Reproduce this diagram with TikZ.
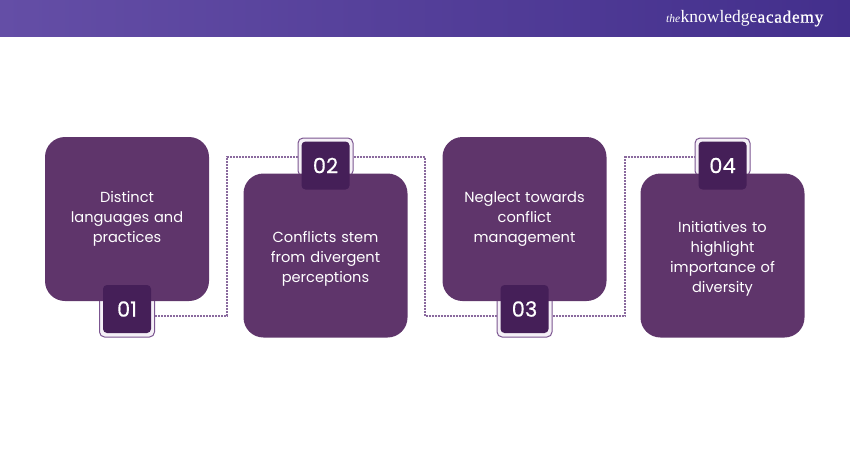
\documentclass[tikz,border=0pt]{standalone}
\usepackage{fontspec}
\setmainfont{Poppins}
\newfontfamily\logofont{Liberation Serif}
\newfontfamily\logoacad{Liberation Serif}[FakeBold=0.5,LetterSpace=3.5]
\newfontfamily\badgefont{Poppins}[FakeBold=0.35]
\definecolor{cardc}{HTML}{5F356B}
\definecolor{badgec}{HTML}{451F58}
\definecolor{framec}{HTML}{7B5590}
\definecolor{linkc}{HTML}{8A6A9E}
\definecolor{headl}{HTML}{644EA6}
\definecolor{headr}{HTML}{432F8C}
\definecolor{halo}{HTML}{F5F0F7}
\newcommand{\lowerstrut}{\rule{0pt}{17pt}}
\tikzset{
  card/.style={fill=cardc,rounded corners=20pt,minimum width=164pt,minimum height=164pt,inner sep=0pt,text=white,align=center,font=\fontsize{14.6}{20}\selectfont,text width=130pt},
  badge/.style={fill=badgec,rounded corners=4pt,minimum width=48pt,minimum height=48pt,inner sep=0pt,text=white,font=\badgefont\fontsize{21}{24}\selectfont},
  frame/.style={draw=framec,line width=1pt,fill=halo,rounded corners=5pt,minimum width=55pt,inner sep=0pt},
  link/.style={draw=linkc,line width=1.1pt,dash pattern=on 2pt off 1pt}
}
\begin{document}
\begin{tikzpicture}[x=1pt,y=-1pt]
\useasboundingbox (0,0) rectangle (850,450);
\fill[left color=headl,right color=headr] (0,0) rectangle (850,36);
\node[text=white,anchor=east,inner sep=0pt,font=\logofont\fontsize{17.5}{20}\selectfont] (logo) at (823.5,18.5) {{\fontsize{11.5}{12}\selectfont\itshape the}\kern0.5pt knowledge{\logoacad academy}};
% joints
\coordinate (j1a) at (227,316);
\coordinate (j1b) at (227,157);
\coordinate (j2a) at (425,157);
\coordinate (j2b) at (425,316);
\coordinate (j3a) at (625,316);
\coordinate (j3b) at (625,157);
% frames
\node[frame,minimum height=42pt] (f1) at (127,316) {};
\node[frame,minimum height=38pt] (f2) at (325.5,157) {};
\node[frame,minimum height=42pt] (f3) at (524.5,316) {};
\node[frame,minimum height=38pt] (f4) at (722.5,157) {};
% connectors
\draw[link] (f1.east) -- (j1a) -- (j1b) -- (f2.west);
\draw[link] (f2.east) -- (j2a) -- (j2b) -- (f3.west);
\draw[link] (f3.east) -- (j3a) -- (j3b) -- (f4.west);
% cards
\node[card] (c1) at (127,219) {Distinct\\languages and\\practices};
\node[card] (c2) at (325.5,255.5) {\lowerstrut Conflicts stem\\from divergent\\perceptions};
\node[card] (c3) at (524.5,219) {Neglect towards\\conflict\\management};
\node[card] (c4) at (722.5,255.5) {\lowerstrut Initiatives to\\highlight\\importance of\\diversity};
% badges
\node[badge] (b1) at (127,309) {01};
\node[badge] (b2) at (325.5,165.5) {02};
\node[badge] (b3) at (524.5,309) {03};
\node[badge] (b4) at (722.5,165.5) {04};
\end{tikzpicture}
\end{document}
